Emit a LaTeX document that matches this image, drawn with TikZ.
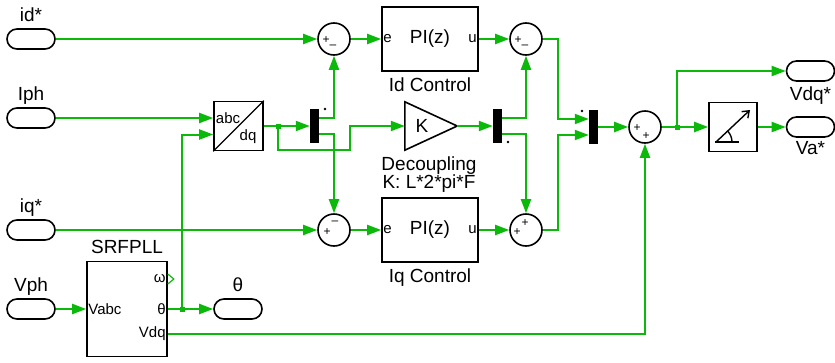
\documentclass[tikz,border=0pt]{standalone}
\usepackage{fontspec}
\setmainfont{Liberation Sans}
\usetikzlibrary{arrows.meta,calc}
\definecolor{wiregreen}{RGB}{10,185,10}

\begin{document}
\begin{tikzpicture}[x=1pt,y=-1pt,>={Triangle[length=14pt,width=10pt]},label distance=7pt,font=\fontsize{19}{18}\selectfont]
\tikzstyle{term}=[draw=black,line width=1.6pt,rectangle,rounded corners=10pt,minimum width=48pt,minimum height=20pt,inner sep=0pt]
\tikzstyle{block}=[draw=black,line width=1.6pt,rectangle,inner sep=0pt]
\tikzstyle{sum}=[draw=black,line width=1.6pt,circle,minimum size=32pt,inner sep=0pt]
\tikzstyle{demux}=[fill=black,rectangle,minimum width=9pt,minimum height=34pt,inner sep=0pt]
\tikzstyle{wire}=[draw=wiregreen,line width=2pt,->]
\tikzstyle{joint}=[fill=wiregreen,rectangle,minimum size=5pt,inner sep=0pt]
\tikzstyle{portlbl}=[font=\fontsize{15}{15}\selectfont,inner sep=2pt]
\tikzstyle{sign}=[font=\fontsize{12}{12}\selectfont,inner sep=0pt]
\tikzstyle{lab}=[anchor=base,inner sep=0pt]
\useasboundingbox (0,0) rectangle (835,362);

% inputs and outputs
\node[term,label={[lab]above:id*}] (idT) at (31,39) {};
\node[term,label={[lab]above:Iph}] (IphT) at (31,118) {};
\node[term,label={[lab]above:iq*}] (iqT) at (31,230) {};
\node[term,label={[lab]above:Vph}] (VphT) at (31,309) {};
\node[term,label={[lab]above:θ}] (thT) at (238,309) {};
\node[term,label={[lab,label distance=19pt]below:Vdq*}] (VdqT) at (810.5,71) {};
\node[term,label={[lab,label distance=17pt]below:Va*}] (VaT) at (810.5,127) {};

% blocks
\node[block,minimum width=80pt,minimum height=95pt,label={[lab]above:SRFPLL}] (pll) at (127,309) {};
\node[portlbl,anchor=west] (pllin) at (pll.west) {Vabc};
\node[portlbl,anchor=east] (pllw) at ($(pll.east)+(0,-30)$) {ω};
\node[portlbl,anchor=east] (pllth) at (pll.east) {θ};
\node[portlbl,anchor=east] (pllv) at ($(pll.east)+(0,25)$) {Vdq};

\node[block,minimum width=49pt,minimum height=49pt] (abc) at (238.5,126) {};
\draw[line width=1.4pt] (abc.south west) -- (abc.north east);
\node[portlbl,inner sep=0pt] (abcL) at (228,118) {abc};
\node[portlbl,inner sep=0pt] (dqL) at (248,137) {dq};

\node[demux] (dm1) at (314.5,126) {};
\node[sum] (s1) at (334,39) {};
\node[block,minimum width=96pt,minimum height=64pt,label={[lab,label distance=20pt]below:Id Control}] (pid) [right of=s1,node distance=96pt] {PI(z)};
\node[sum] (s2) [right of=pid,node distance=96pt] {};
\node[sum] (s3) at (334,230) {};
\node[block,minimum width=96pt,minimum height=64pt,label={[lab,label distance=20pt]below:Iq Control}] (piq) [right of=s3,node distance=96pt] {PI(z)};
\node[sum] (s4) [right of=piq,node distance=96pt] {};
\foreach \b in {pid,piq} {
  \node[portlbl,anchor=west] (\b e) at (\b.west) {e};
  \node[portlbl,anchor=east] (\b u) at (\b.east) {u};
}

\node[minimum width=52pt,minimum height=48pt,inner sep=0pt] (K) at (431,126) {};
\draw[line width=1.6pt] (K.north west) -- (K.east) -- (K.south west) -- cycle;
\node (Ktxt) at (422,126) {K};
\node[align=center,anchor=north,inner sep=0pt] (dec) at (429,157) {Decoupling\\K: L*2*pi*F};
\node[demux] (dm2) at (497.5,126) {};

\node[demux] (dm3) at (593.5,127) {};
\node[sum] (s5) at (645,127) {};
\node[block,minimum width=48pt,minimum height=49pt] (mag) at (733,127) {};
\draw[line width=1.4pt] ($(mag.center)+(-18,15)$) -- ++(24,0);
\draw[line width=1.4pt,-{Straight Barb[length=6pt,width=9pt]}] ($(mag.center)+(-17,15)$) -- ($(mag.center)+(17,-17)$);
\draw[line width=1.4pt] ($(mag.center)+(-1,15)$) arc[start angle=0,end angle=43,radius=16pt];

% signs on the sums
\foreach \n/\dx/\dy/\sg [count=\i] in {s1/-8/1/+,s1/-1/8/–,s2/-8/1/+,s2/-1/8/–,s3/-7/2/+,s3/1/-7/–,s4/-9/2/+,s4/-1/-7/+,s5/-8/1/+,s5/1/9/+}
  \node[sign] (sg\i) at ($(\n)+(\dx,\dy)$) {\sg};

% dots on the demuxes
\fill (325,109) circle (1.3pt);
\fill (508,142) circle (1.3pt);
\fill (582,111) circle (1.3pt);

% wires
\node[joint] (j1) at (182,309) {};
\node[joint] (j2) at (278,126) {};
\node[joint] (j3) at (677,127) {};
\draw[wire] (idT) -- (s1);
\draw[wire] (s1) -- (pid);
\draw[wire] (pid) -- (s2);
\draw[wire] (IphT) -- (IphT -| abc.west);
\draw[wire] (VphT) -- (pll);
\draw[wire] (pll) -- (thT);
\draw[wire] (j1.center) |- ($(abc.west)+(0,8.5)$);
\draw[wire] (abc) -- (dm1);
\draw[wire] (j2.center) |- (350,150) |- (K.west);
\draw[wire] ($(dm1.east)+(0,-8)$) -| (s1);
\draw[wire] ($(dm1.east)+(0,8)$) -| (s3);
\draw[wire] (K.east) -- (dm2);
\draw[wire] ($(dm2.east)+(0,-8)$) -| (s2);
\draw[wire] ($(dm2.east)+(0,8)$) -| (s4);
\draw[wire] (iqT) -- (s3);
\draw[wire] (s3) -- (piq);
\draw[wire] (piq) -- (s4);
\draw[wire] (s2.east) -- ++(15,0) |- ($(dm3.west)+(0,-8)$);
\draw[wire] (s4.east) -- ++(15,0) |- ($(dm3.west)+(0,8)$);
\draw[wire] (dm3) -- (s5);
\draw[wire] (s5) -- (mag);
\draw[wire] (j3.center) |- (VdqT);
\draw[wire] (mag) -- (VaT);
\draw[wire] ($(pll.east)+(0,25)$) -| (s5);
\draw[wiregreen,line width=1.2pt] ($(pll.east)+(0,-35)$) -- ++(6,5) -- ++(-6,5);
\end{tikzpicture}
\end{document}
